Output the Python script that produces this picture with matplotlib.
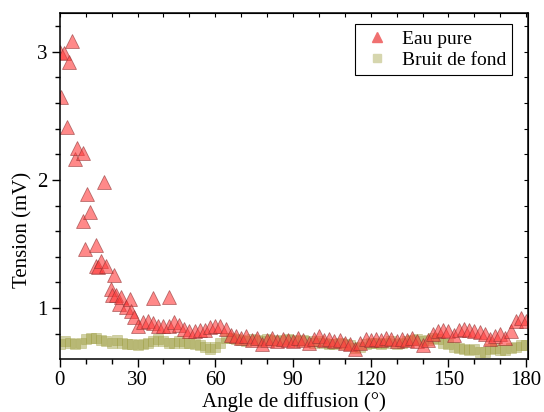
import matplotlib
matplotlib.use("Agg")
import matplotlib.pyplot as plt
from matplotlib.ticker import MultipleLocator

plt.rcParams['font.family'] = ['Liberation Serif', 'DejaVu Serif']
plt.rcParams['font.size'] = 15

# Eau pure - sparse points at small angles
eau_angle_low = [0, 0.6, 1.7, 2.7, 3.6, 4.8, 5.8, 6.7, 8.9, 8.9, 9.7, 10.5, 11.8,
                 13.8, 13.8, 14.8, 15.8, 16.9, 17.9, 19.6, 20, 20.8, 21.7, 22.8,
                 23.8, 25.5, 27, 27.4, 28.7, 35.8, 42]
eau_tension_low = [3.00, 2.65, 2.99, 2.41, 2.92, 3.08, 2.16, 2.25, 2.21, 1.68, 1.46,
                   1.89, 1.75, 1.49, 1.33, 1.32, 1.37, 1.98, 1.33, 1.15, 1.10, 1.26,
                   1.10, 1.03, 1.09, 1.01, 1.07, 0.98, 0.93, 1.08, 1.09]

# Eau pure - dense points
eau_angle = [30, 32, 34, 36, 38, 40, 42, 44, 46, 48, 50, 52, 54, 56, 58, 60, 62, 64,
             66, 68, 70, 72, 74, 76, 78, 80, 82, 84, 86, 88, 90, 92, 94, 96, 98, 100,
             102, 104, 106, 108, 110, 112, 114, 116, 118, 120, 122, 124, 126, 128,
             130, 132, 134, 136, 138, 140, 142, 144, 146, 148, 150, 152, 154, 156,
             158, 160, 162, 164, 166, 168, 170, 172, 174, 176, 178, 180]
eau_tension = [0.86, 0.89, 0.90, 0.88, 0.86, 0.86, 0.86, 0.89, 0.87, 0.84, 0.82, 0.82,
               0.83, 0.83, 0.85, 0.86, 0.86, 0.84, 0.79, 0.78, 0.77, 0.78, 0.75, 0.77,
               0.72, 0.75, 0.77, 0.74, 0.76, 0.75, 0.74, 0.77, 0.75, 0.73, 0.76, 0.78,
               0.75, 0.76, 0.74, 0.75, 0.73, 0.72, 0.68, 0.73, 0.76, 0.75, 0.76, 0.75,
               0.77, 0.76, 0.74, 0.76, 0.75, 0.77, 0.74, 0.71, 0.75, 0.80, 0.82, 0.83,
               0.82, 0.79, 0.83, 0.84, 0.83, 0.82, 0.81, 0.80, 0.76, 0.78, 0.80, 0.77,
               0.82, 0.90, 0.92, 0.90]

# Bruit de fond
bruit_angle = [0, 2, 4, 6, 8, 10, 12, 14, 16, 18, 20, 22, 24, 26, 28, 30, 32, 34, 36,
               38, 40, 42, 44, 46, 48, 50, 52, 54, 56, 58, 60, 62, 64, 66, 68, 70, 72,
               74, 76, 78, 80, 82, 84, 86, 88, 90, 92, 94, 96, 98, 100, 102, 104, 106,
               108, 110, 112, 114, 116, 118, 120, 122, 124, 126, 128, 130, 132, 134,
               136, 138, 140, 142, 144, 146, 148, 150, 152, 154, 156, 158, 160, 162,
               164, 166, 168, 170, 172, 174, 176, 178, 180]
bruit_tension = [0.72, 0.74, 0.73, 0.72, 0.73, 0.76, 0.77, 0.77, 0.75, 0.74, 0.73, 0.75,
                 0.73, 0.72, 0.72, 0.71, 0.72, 0.73, 0.74, 0.76, 0.74, 0.73, 0.73, 0.74,
                 0.73, 0.73, 0.72, 0.71, 0.70, 0.68, 0.70, 0.73, 0.77, 0.77, 0.76, 0.75,
                 0.74, 0.76, 0.75, 0.74, 0.76, 0.75, 0.74, 0.75, 0.76, 0.75, 0.74, 0.75,
                 0.74, 0.73, 0.74, 0.73, 0.72, 0.72, 0.73, 0.72, 0.71, 0.69, 0.70, 0.72,
                 0.73, 0.73, 0.72, 0.73, 0.74, 0.72, 0.73, 0.74, 0.75, 0.76, 0.74, 0.75,
                 0.77, 0.76, 0.73, 0.72, 0.70, 0.69, 0.68, 0.67, 0.68, 0.66, 0.66, 0.68,
                 0.69, 0.67, 0.67, 0.69, 0.70, 0.71, 0.71]

fig = plt.figure(figsize=(5.44, 4.12), dpi=100)
ax = fig.add_axes([0.110, 0.129, 0.861, 0.839])

# background noise first, water on top
ax.plot(bruit_angle, bruit_tension, linestyle='none', marker='s', markersize=7,
        markerfacecolor='#9a9a3a', markeredgecolor='#9a9a3a', markeredgewidth=0.5,
        alpha=0.45)
ax.plot(eau_angle_low + eau_angle, eau_tension_low + eau_tension, linestyle='none',
        marker='^', markersize=10, markerfacecolor='#ff3a3a',
        markeredgecolor='#8a3030', markeredgewidth=0.6, alpha=0.6)

# legend handles
h1, = ax.plot([], [], linestyle='none', marker='^', markersize=7,
              markerfacecolor='#f07070', markeredgecolor='#f07070')
h2, = ax.plot([], [], linestyle='none', marker='s', markersize=6,
              markerfacecolor='#d6d6ae', markeredgecolor='#d6d6ae')
leg = ax.legend([h1, h2], ['Eau pure', 'Bruit de fond'], loc='upper right',
                bbox_to_anchor=(0.966, 0.968), borderaxespad=0, fancybox=False,
                framealpha=1, edgecolor='black', handlelength=1.6,
                handletextpad=0.5, borderpad=0.3, labelspacing=0.2, fontsize=14)
leg.get_frame().set_linewidth(0.8)

ax.set_xlim(0, 180.8)
ax.set_ylim(0.604, 3.30)
ax.xaxis.set_major_locator(MultipleLocator(30))
ax.xaxis.set_minor_locator(MultipleLocator(10))
ax.yaxis.set_major_locator(MultipleLocator(1))
ax.yaxis.set_minor_locator(MultipleLocator(0.2))
ax.tick_params(which='major', direction='out', length=6, width=1, pad=3)
ax.tick_params(which='minor', direction='out', length=3.5, width=1)

# mirrored ticks on top and right, pointing in
top = ax.secondary_xaxis('top')
top.xaxis.set_major_locator(MultipleLocator(30))
top.xaxis.set_minor_locator(MultipleLocator(10))
top.tick_params(which='both', direction='in', labeltop=False, length=3, width=0.8)
right = ax.secondary_yaxis('right')
right.yaxis.set_major_locator(MultipleLocator(1))
right.yaxis.set_minor_locator(MultipleLocator(0.2))
right.tick_params(which='both', direction='in', labelright=False, length=3, width=0.8)

for s in ax.spines.values():
    s.set_linewidth(1.1)

ax.set_xlabel('Angle de diffusion (°)', labelpad=1)
ax.set_ylabel('Tension (mV)')
ax.yaxis.set_label_coords(-0.058, 0.373)

fig.savefig('out.png', dpi=100)
